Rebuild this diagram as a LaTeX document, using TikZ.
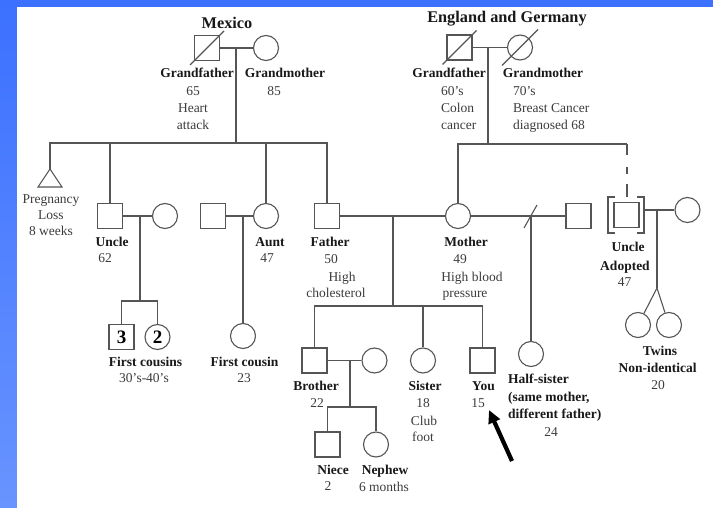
\documentclass[tikz,border=0pt]{standalone}
\usepackage{fontspec}
\setmainfont{Liberation Serif}
\usetikzlibrary{arrows.meta,calc}
\definecolor{bluetop}{RGB}{60,112,255}
\definecolor{bluebot}{RGB}{104,148,255}
\definecolor{lncol}{RGB}{85,85,85}
\definecolor{txcol}{RGB}{25,25,25}
\definecolor{rgcol}{RGB}{60,60,60}
\begin{document}
\begin{tikzpicture}[x=1pt,y=-1pt,
  ln/.style={draw=lncol,line width=1.1pt},
  male/.style={ln,rectangle,minimum size=25pt,inner sep=0pt},
  female/.style={ln,circle,minimum size=25pt,inner sep=0pt},
  bt/.style={font=\fontsize{13.5}{16}\selectfont\bfseries,text=txcol,inner sep=0pt,anchor=base},
  rt/.style={font=\fontsize{13.5}{16}\selectfont,text=rgcol,inner sep=0pt,anchor=base},
  btl/.style={bt,anchor=base west},
  rtl/.style={rt,anchor=base west},
  title/.style={bt,font=\fontsize{16.3}{18}\selectfont\bfseries},
  big/.style={font=\fontsize{19}{20}\selectfont\bfseries,text=black,inner sep=0pt}]
\useasboundingbox (0,0) rectangle (713,508);
% background
\fill[bluetop] (0,0) rectangle (713,7);
\shade[top color=bluetop,bottom color=bluebot] (0,0) rectangle (17,508);
\fill[white] (17,7) rectangle (713,508);

% ---------- Mexico grandparents
\node[title] (tmex) at (227,28.5) {Mexico};
\node[male] (gfm) at (207,48) {};
\draw[ln] ($(gfm)+(-17,17)$) -- ($(gfm)+(17,-17)$);
\node[female] (gmm) at (266,48) {};
\draw[ln] (gfm) -- (gmm);
\coordinate (mj) at (236,48);
\coordinate (ms) at (236,143);
\draw[ln] (mj) -- (ms);
\node[bt] (tgf1) at (197,77.5) {Grandfather};
\node[bt] (tgm1) at (285,77.5) {Grandmother};
\node[rt] (t65) at (193,95.5) {65};
\node[rt] (thrt) at (193,112.5) {Heart};
\node[rt] (tatk) at (193,129.5) {attack};
\node[rt] (t85) at (274,95.5) {85};

% ---------- England/Germany grandparents
\node[title] (teng) at (507,22.5) {England and Germany};
\node[male] (gfe) at (459.5,47.5) {};
\draw[ln] ($(gfe)+(-17,17)$) -- ($(gfe)+(17,-17)$);
\node[female] (gme) at (520,47.5) {};
\draw[ln] ($(gme)+(-18,18)$) -- ($(gme)+(18,-18)$);
\draw[ln] (gfe) -- (gme);
\coordinate (ej) at (488,47.5);
\coordinate (es) at (488,144);
\draw[ln] (ej) -- (es);
\node[bt] (tgf2) at (449,77.5) {Grandfather};
\node[bt] (tgm2) at (543,77.5) {Grandmother};
\node[rtl] (t60) at (441,95.5) {60’s};
\node[rtl] (tcol) at (441,112.5) {Colon};
\node[rtl] (tcan) at (441,129.5) {cancer};
\node[rtl] (t70) at (513,95.5) {70’s};
\node[rtl] (tbc) at (513,112.5) {Breast Cancer};
\node[rtl] (tdg) at (513,129.5) {diagnosed 68};

% ---------- paternal generation
\coordinate (pl) at (50,169);
\draw[ln] (pl) -- ++(12,18) -- ++(-24,0) -- cycle;
\node[male] (un) at (110,216) {};
\node[female] (uw) at (165,216) {};
\node[male] (ah) at (213,216) {};
\node[female] (au) at (266,216) {};
\node[male] (fa) at (327,216) {};
\draw[ln] (pl) |- (ms) -| (fa);
\draw[ln] (un) -- (un |- ms);
\draw[ln] (au) -- (au |- ms);
\draw[ln] (un) -- (uw);
\draw[ln] (ah) -- (au);

\node[rt] (tpreg) at (51,203.5) {Pregnancy};
\node[rt] (tloss) at (51,219.5) {Loss};
\node[rt] (t8w) at (51,235.5) {8 weeks};
\node[bt] (tunc) at (112,246.5) {Uncle};
\node[rt] (t62) at (105,262.5) {62};
\node[bt] (taun) at (270,246.5) {Aunt};
\node[rt] (t47a) at (267,262.5) {47};
\node[bt] (tfat) at (330,246.5) {Father};
\node[rt] (t50) at (331,263.5) {50};
\node[rt] (thi1) at (342,281.5) {High};
\node[rt] (tcho) at (336,297.5) {cholesterol};

% cousins
\coordinate (uj) at (140,216);
\coordinate (ucs) at (140,301);
\draw[ln] (uj) -- (ucs);
\node[male] (c3) at (121.5,337) {};
\node[female] (c2) at (157.5,337) {};
\node[big] (n3) at (c3) {3};
\node[big] (n2) at (c2) {2};
\draw[ln] (c3) |- (ucs) -| (c2);
\node[bt] (tfc) at (145.5,366.5) {First cousins};
\node[rt] (t3040) at (144,382.5) {30’s-40’s};

\coordinate (aj) at (243,216);
\node[female] (fc) at (243,336) {};
\draw[ln] (aj) -- (fc);
\node[bt] (tfc1) at (244.5,366.5) {First cousin};
\node[rt] (t23) at (244,382.5) {23};

% ---------- maternal generation
\node[female] (mo) at (458,216) {};
\coordinate (ads) at (627,144);
\draw[ln] (mo) |- (es) -- (ads);
\draw[ln] (fa) -- (mo);
\node[bt] (tmot) at (466,246.5) {Mother};
\node[rt] (t49) at (460,263.5) {49};
\node[rt] (thi2) at (472,281.5) {High blood};
\node[rt] (tpre) at (465,297.5) {pressure};

% half-sister
\node[male] (hf) at (578.5,216) {};
\draw[ln] (mo) -- (hf);
\coordinate (hsl1) at (524,228);
\coordinate (hsl2) at (537,205);
\draw[ln] (hsl1) -- (hsl2);
\coordinate (hj) at (531,216);
\node[female] (hs) at (531,354) {};
\draw[ln] (hj) -- (hs);
\node[btl] (ths1) at (508,383.5) {Half-sister};
\node[btl] (ths2) at (508,401.5) {(same mother,};
\node[btl] (ths3) at (508,418.5) {different father)};
\node[rt] (t24) at (551,436.5) {24};

% adopted uncle
\node[male] (ua) at (626.5,215) {};
\coordinate (adb) at (627,197);
\draw[ln,dash pattern=on 11pt off 12pt on 7pt off 10pt on 14pt] (ads) -- (adb);
\draw[ln] (615,197) -- (608,197) -- (608,233) -- (615,233);
\draw[ln] (637,197) -- (644,197) -- (644,233) -- (637,233);
\coordinate (uab) at (644,210);
\node[female] (uaw) at (687.5,210) {};
\draw[ln] (uab) -- (uaw);
\coordinate (uaj) at (657,210);
\coordinate (tw) at (657,288);
\draw[ln] (uaj) -- (tw);
\node[female] (tw1) at (638,325) {};
\node[female] (tw2) at (669,325) {};
\draw[ln] (tw) -- (tw1);
\draw[ln] (tw) -- (tw2);
\node[bt] (tua1) at (628,251.5) {Uncle};
\node[bt] (tua2) at (625,270) {Adopted};
\node[rt] (t47b) at (624.5,286.5) {47};
\node[bt] (ttw1) at (660,355.5) {Twins};
\node[bt] (ttw2) at (657.5,372.5) {Non-identical};
\node[rt] (t20) at (658,389.5) {20};

% ---------- children
\coordinate (fj) at (393,216);
\coordinate (fcs) at (393,306);
\draw[ln] (fj) -- (fcs);
\node[male] (br) at (314.5,360.5) {};
\node[female] (bw) at (374.5,360.5) {};
\node[female] (si) at (423,360.5) {};
\node[male] (yo) at (482.5,360.5) {};
\draw[ln] (br) |- (fcs) -| (yo);
\draw[ln] (si) -- (si |- fcs);
\draw[ln] (br) -- (bw);
\node[bt] (tbro) at (316,390.5) {Brother};
\node[rt] (t22) at (317,407.5) {22};
\node[bt] (tsis) at (425,390.5) {Sister};
\node[rt] (t18) at (423,407.5) {18};
\node[rt] (tclb) at (424,425.5) {Club};
\node[rt] (tfot) at (423,441.5) {foot};
\node[bt] (tyou) at (483.5,390.5) {You};
\node[rt] (t15) at (478,407.5) {15};

% grandchildren
\coordinate (bj) at (350,360.5);
\coordinate (bcs) at (350,407);
\draw[ln] (bj) -- (bcs);
\node[male] (ni) at (327.5,444.5) {};
\node[female] (ne) at (376,444.5) {};
\draw[ln] (ni) |- (bcs) -| (ne);
\node[bt] (tnie) at (333,474.5) {Niece};
\node[rt] (t2) at (328,490.5) {2};
\node[bt] (tnep) at (385,474.5) {Nephew};
\node[rt] (t6m) at (384,491.5) {6 months};

% arrow
\coordinate (arS) at (512,461);
\coordinate (arT) at (489,410);
\draw[line width=4.2pt,black,-{Triangle[length=13pt,width=12pt]}] (arS) -- (arT);
\end{tikzpicture}
\end{document}
